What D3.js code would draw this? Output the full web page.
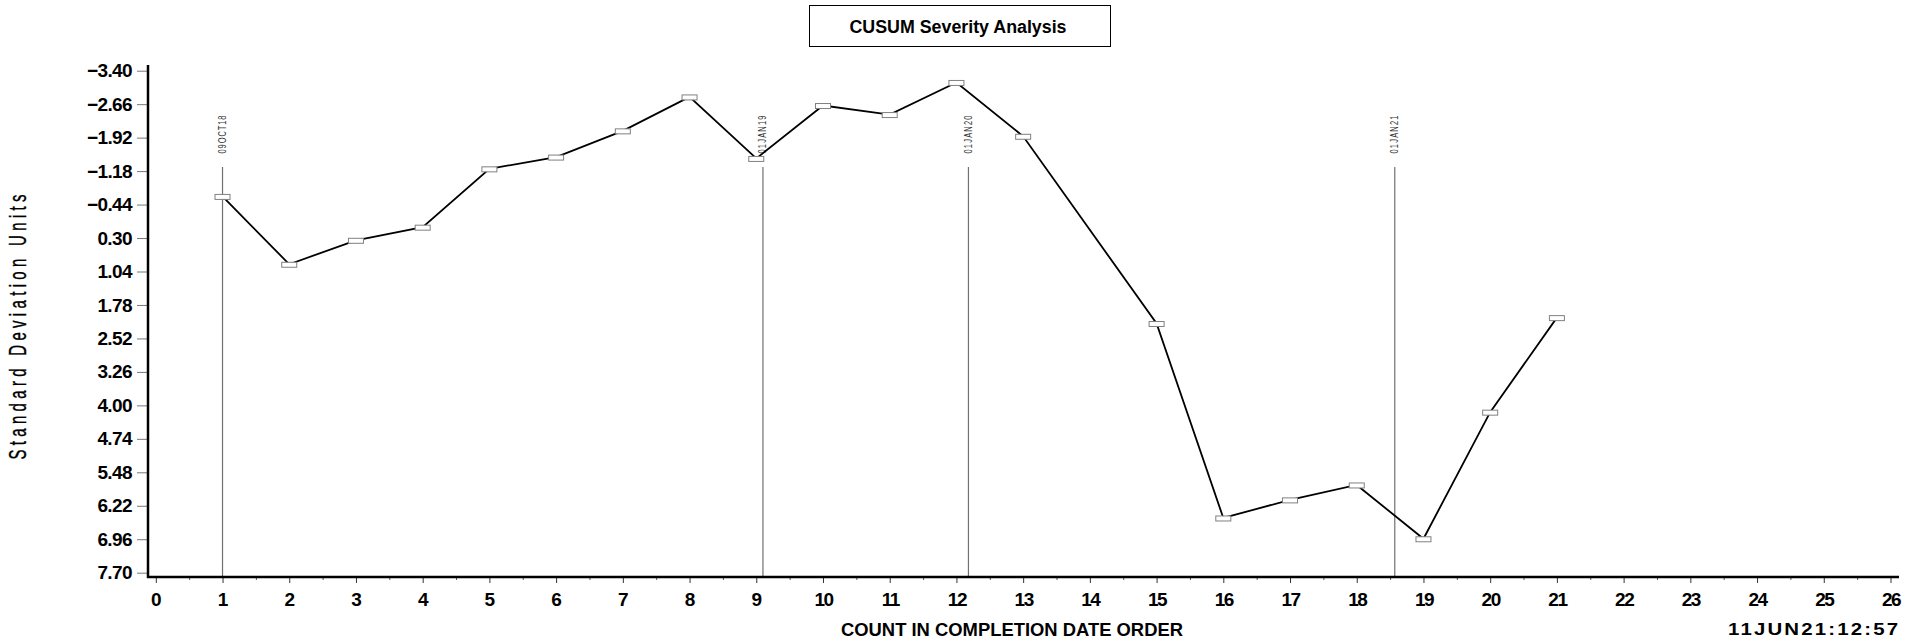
<!DOCTYPE html>
<html><head><meta charset="utf-8">
<script src="https://cdn.jsdelivr.net/npm/d3@7"></script>
<style>body{margin:0;background:#fff}svg{display:block}</style>
</head><body><svg id="c" width="1911" height="641"></svg>
<script>
const chartTitle = "CUSUM Severity Analysis";
const xTitle = "COUNT IN COMPLETION DATE ORDER";
const yTitle = "Standard Deviation Units";
const stamp = "11JUN21:12:57";

const counts = [1,2,3,4,5,6,7,8,9,10,11,12,13,15,16,17,18,19,20,21];
const cusum  = [-0.62,0.88,0.35,0.06,-1.23,-1.49,-2.07,-2.82,-1.46,-2.63,-2.43,-3.14,-1.95,2.19,6.49,6.09,5.76,6.95,4.15,2.06];

const yTicks = [-3.40,-2.66,-1.92,-1.18,-0.44,0.30,1.04,1.78,2.52,3.26,4.00,4.74,5.48,6.22,6.96,7.70];
const yTickLabels = ["-3.40","-2.66","-1.92","-1.18","-0.44","0.30","1.04","1.78","2.52","3.26","4.00","4.74","5.48","6.22","6.96","7.70"];
const xTicks = [0,1,2,3,4,5,6,7,8,9,10,11,12,13,14,15,16,17,18,19,20,21,22,23,24,25,26];
const xMinorTicks = [0.5,1.5,2.5,3.5,4.5,5.5,6.5,7.5,8.5,9.5,10.5,11.5,12.5,13.5,14.5,15.5,16.5,17.5,18.5,19.5,20.5,21.5,22.5,23.5,24.5,25.5];

const refPos = [1, 9.1, 12.18, 18.57];
const refLabels = ["09OCT18","01JAN19","01JAN20","01JAN21"];

const svg = d3.select("#c");
const x = d3.scaleLinear().domain([0, 26]).range([155.8, 1890.5]);
const y = d3.scaleLinear().domain([-3.40, 7.70]).range([70.7, 572.7]);
const axX = 148, axY = 577;
const boldFont = "'Liberation Sans', Arial, Helvetica, sans-serif";
const narrowFont = "'Liberation Sans', Arial, Helvetica, sans-serif";

// Title box
svg.append("rect").attr("x", 809.5).attr("y", 5.5).attr("width", 301).attr("height", 41)
  .attr("fill", "#fff").attr("stroke", "#000").attr("stroke-width", 1);
svg.append("text").attr("x", 958).attr("y", 33).attr("text-anchor", "middle")
  .attr("font-family", boldFont).attr("font-weight", "bold").attr("font-size", 18)
  .attr("textLength", 217).attr("lengthAdjust", "spacingAndGlyphs")
  .text(chartTitle);

// Reference lines
const refs = svg.append("g");
refPos.forEach((p, i) => {
  refs.append("line").attr("x1", x(p)).attr("x2", x(p)).attr("y1", 167).attr("y2", axY)
    .attr("stroke", "#707070").attr("stroke-width", 1.2);
  refs.append("text")
    .attr("transform", `translate(${x(p) + 3.5},134.5) rotate(-90) scale(0.75,1)`)
    .attr("text-anchor", "middle")
    .attr("font-family", narrowFont).attr("font-size", 10).attr("fill", "#333")
    .attr("textLength", 38 / 0.75).attr("lengthAdjust", "spacing")
    .text(refLabels[i]);
});

// Y axis
const yAxis = svg.append("g").attr("transform", `translate(${axX},0)`)
  .call(d3.axisLeft(y).tickValues(yTicks).tickSize(11).tickPadding(5)
    .tickFormat((d, i) => yTickLabels[i].replace("-", "\u2212")));
yAxis.select(".domain").remove();
yAxis.selectAll(".tick line").attr("stroke", "#777").attr("stroke-width", 1);
yAxis.selectAll(".tick text").attr("font-family", boldFont).attr("font-weight", "bold")
  .attr("font-size", 19).attr("letter-spacing", "-0.6px").attr("fill", "#000");

// X axis major / minor
const xAxis = svg.append("g").attr("transform", `translate(0,${axY})`)
  .call(d3.axisBottom(x).tickValues(xTicks).tickSize(6).tickPadding(10).tickFormat(d => String(d)));
xAxis.select(".domain").remove();
xAxis.selectAll(".tick line").attr("stroke", "#333").attr("stroke-width", 1);
xAxis.selectAll(".tick text").attr("font-family", boldFont).attr("font-weight", "bold")
  .attr("font-size", 19).attr("letter-spacing", d => d >= 10 ? "-1.5px" : "0px").attr("fill", "#000");
const xMinor = svg.append("g").attr("transform", `translate(0,${axY})`)
  .call(d3.axisBottom(x).tickValues(xMinorTicks).tickSize(3).tickFormat(""));
xMinor.select(".domain").remove();
xMinor.selectAll(".tick line").attr("stroke", "#555").attr("stroke-width", 1);

// Axis lines
svg.append("line").attr("x1", axX).attr("x2", axX).attr("y1", 65).attr("y2", axY + 1)
  .attr("stroke", "#000").attr("stroke-width", 2.5);
svg.append("line").attr("x1", axX - 1).attr("x2", 1899).attr("y1", axY).attr("y2", axY)
  .attr("stroke", "#000").attr("stroke-width", 2.5);

// Data line
const pts = counts.map((c, i) => [c, cusum[i]]);
svg.append("path").datum(pts)
  .attr("d", d3.line().x(d => x(d[0])).y(d => y(d[1])))
  .attr("fill", "none").attr("stroke", "#000").attr("stroke-width", 1.8);
svg.append("g").selectAll("rect").data(pts).join("rect")
  .attr("x", d => x(d[0]) - 7.5).attr("y", d => y(d[1]) - 2)
  .attr("width", 15).attr("height", 5)
  .attr("fill", "#fff").attr("stroke", "#808080").attr("stroke-width", 1);

// Axis titles
svg.append("text")
  .attr("transform", `translate(26,327) rotate(-90) scale(0.65,1)`)
  .attr("text-anchor", "middle")
  .attr("font-family", narrowFont).attr("font-size", 23).attr("fill", "#000")
  .attr("stroke", "#000").attr("stroke-width", 0.4)
  .attr("textLength", 265 / 0.65).attr("lengthAdjust", "spacing")
  .text(yTitle);
svg.append("text").attr("x", 1012).attr("y", 636).attr("text-anchor", "middle")
  .attr("font-family", boldFont).attr("font-weight", "bold").attr("font-size", 18)
  .attr("textLength", 342).attr("lengthAdjust", "spacingAndGlyphs")
  .text(xTitle);
svg.append("text").attr("transform", "translate(1728,635) scale(1.2,1)")
  .attr("font-family", boldFont).attr("font-weight", "bold").attr("font-size", 17)
  .attr("textLength", 170 / 1.2).attr("lengthAdjust", "spacing")
  .text(stamp);
</script>
</body></html>
